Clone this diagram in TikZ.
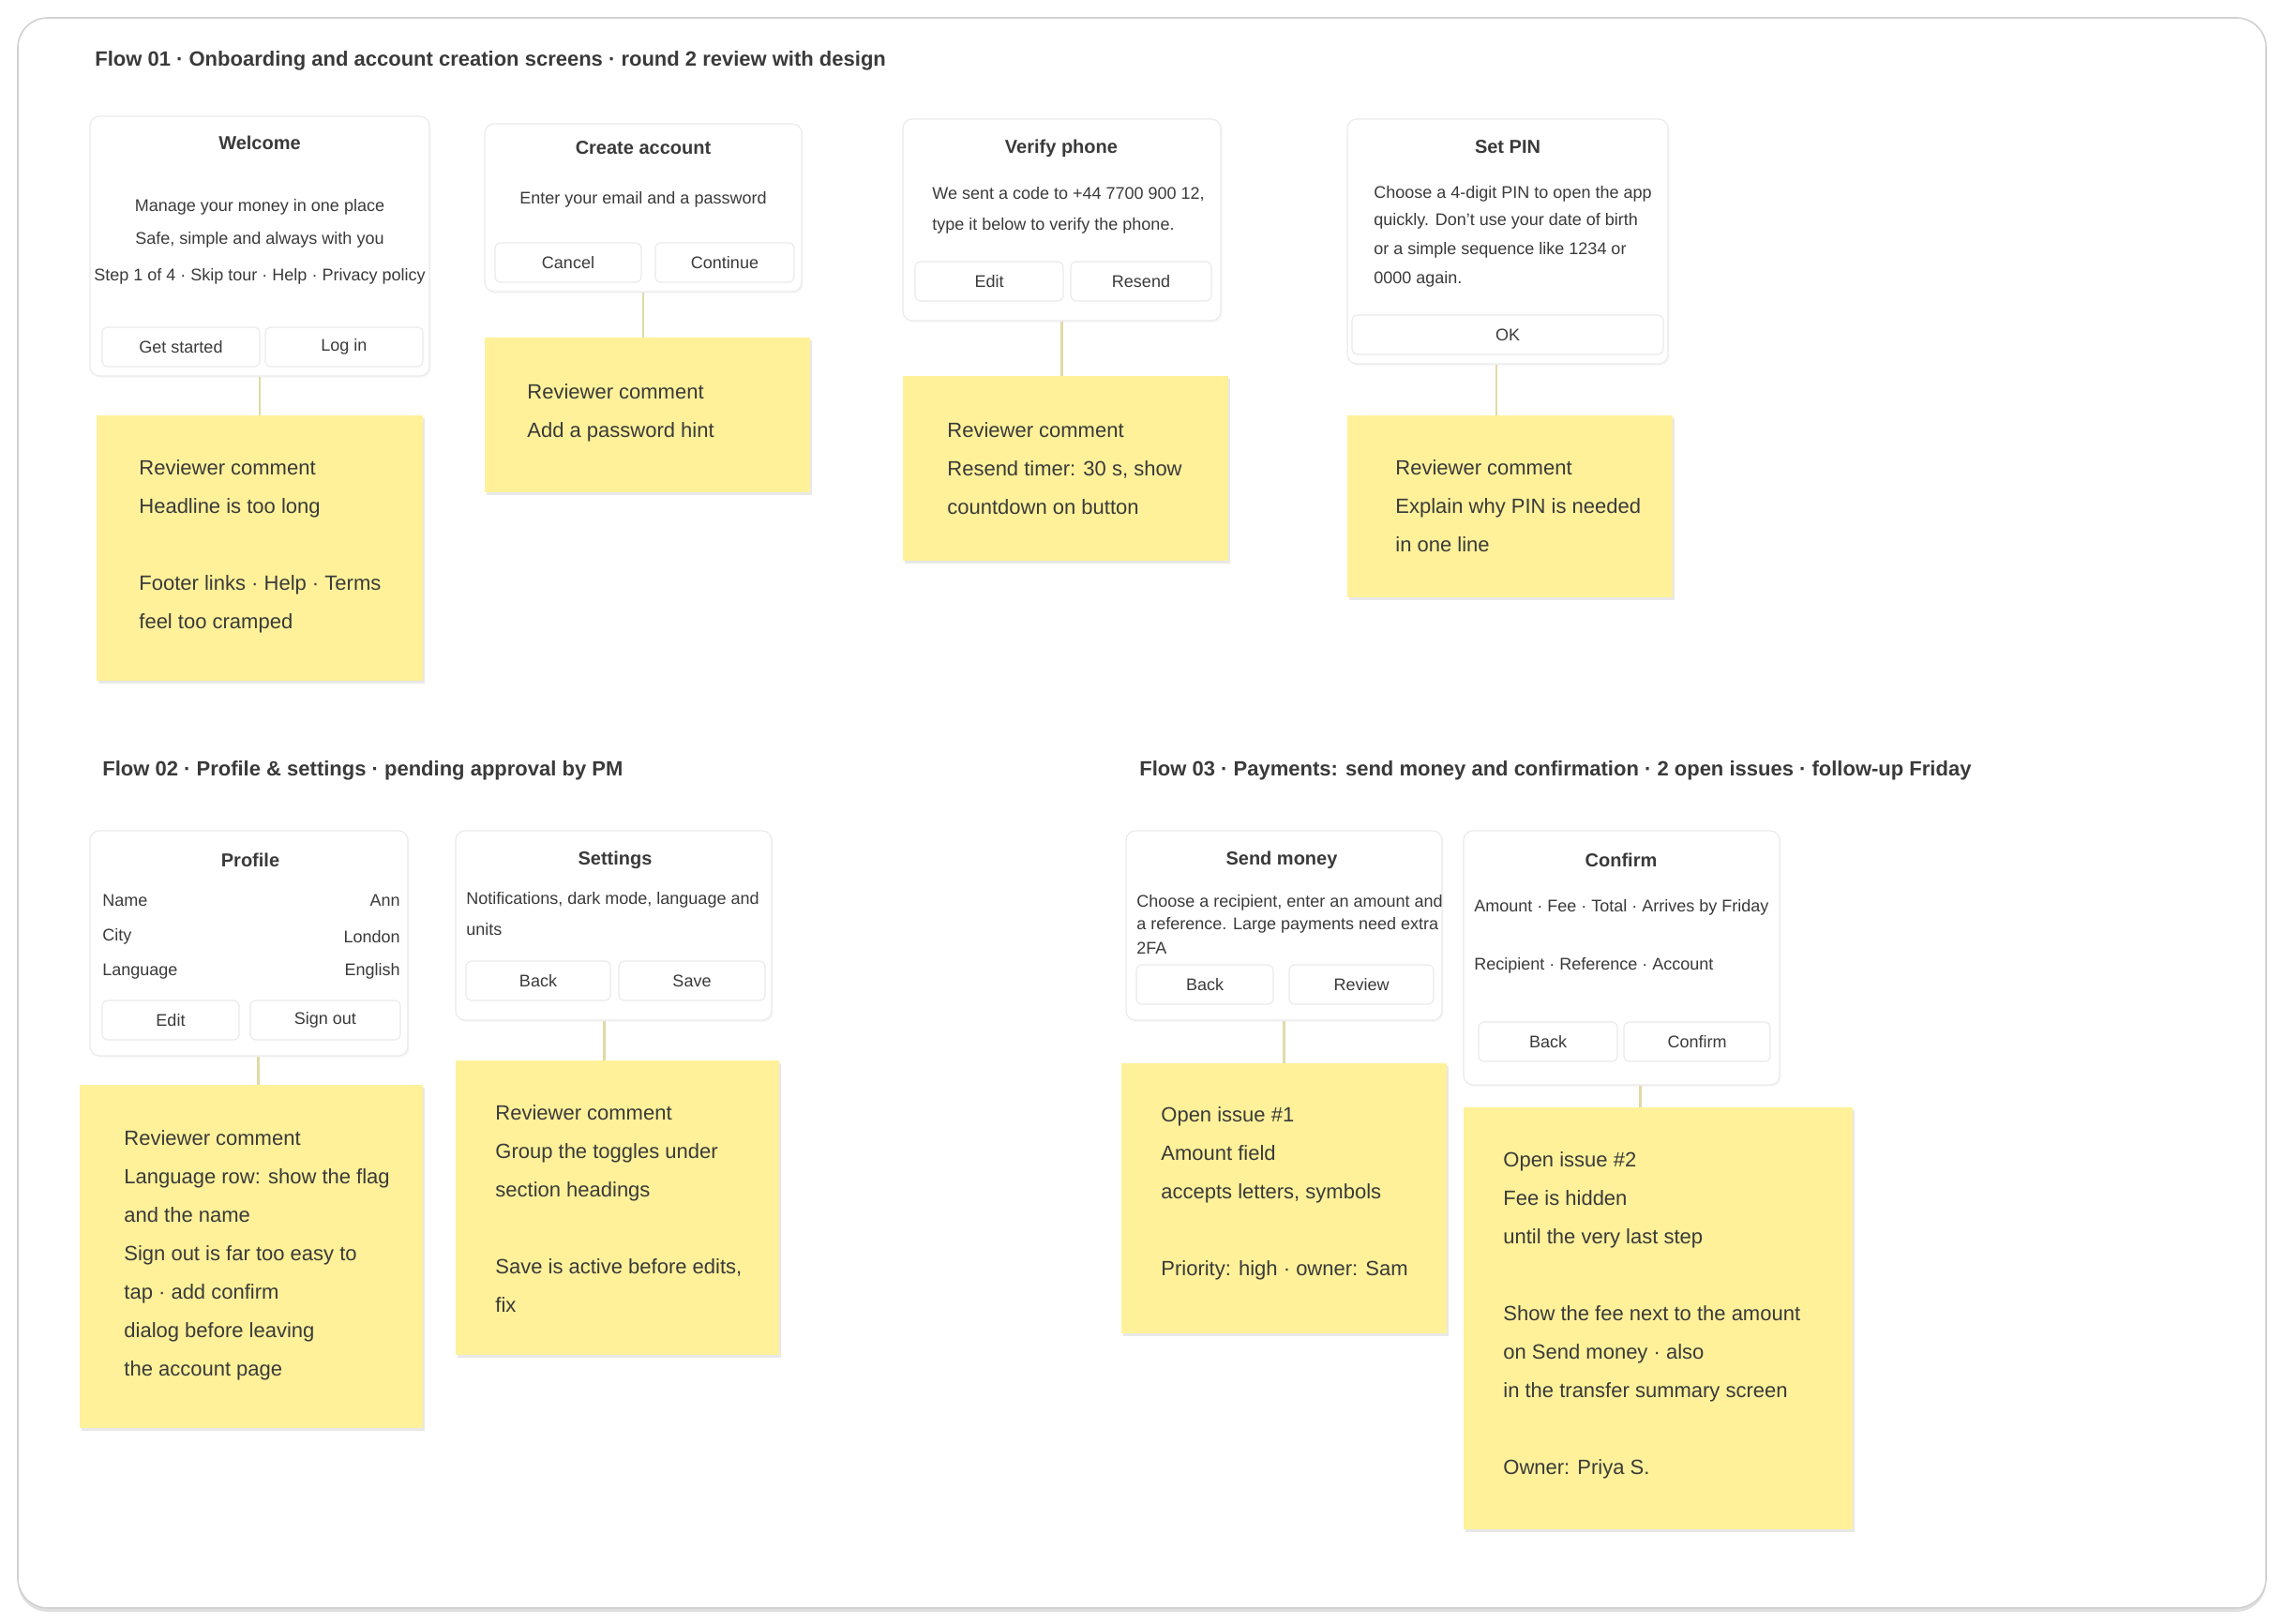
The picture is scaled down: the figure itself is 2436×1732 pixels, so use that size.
\documentclass[tikz,border=0pt]{standalone}
\usepackage{fontspec}
\setmainfont{Liberation Sans}
\usetikzlibrary{shadows,fit}
\definecolor{stickyc}{HTML}{FEF199}
\definecolor{linkc}{HTML}{E0DAA6}
\definecolor{inkc}{HTML}{3A3A3A}
\tikzset{
 frame/.style={draw=black!18, fill=white, rounded corners=16pt, line width=0.8pt, inner sep=0pt, drop shadow={opacity=0.25, shadow xshift=0pt, shadow yshift=-2pt}},
 wire/.style={draw=black!8, fill=white, rounded corners=5pt, line width=0.6pt, inner sep=0pt, drop shadow={opacity=0.06, shadow xshift=0.8pt, shadow yshift=-1pt}},
 btn/.style={draw=black!8, fill=white, rounded corners=3pt, line width=0.6pt, font=\fontsize{9}{11}\selectfont, text=inkc, minimum height=21pt, inner sep=0pt},
 sticky/.style={fill=stickyc, inner sep=0pt, drop shadow={opacity=0.18, shadow xshift=1pt, shadow yshift=-1.5pt}},
 link/.style={draw=linkc, line width=1.2pt},
 sec/.style={anchor=west, inner sep=0pt, font=\bfseries\fontsize{11}{13}\selectfont, text=inkc},
 wtitle/.style={inner sep=0pt, font=\bfseries\fontsize{10}{12}\selectfont, text=inkc},
 wtext/.style={inner sep=0pt, font=\fontsize{9}{11}\selectfont, text=inkc},
 wleft/.style={wtext, anchor=west},
 stext/.style={anchor=north west, inner sep=0pt, align=left, font=\fontsize{11}{20.5}\selectfont, text=inkc},
}
\begin{document}
\begin{tikzpicture}[x=0.5pt,y=-0.5pt]
\useasboundingbox (0,0) rectangle (2436,1732);
\node[frame, fit={(19,19)(2417,1715)}] (frame) {};

% section titles
\node[sec] (t1) at (101,65) {Flow 01 · Onboarding and account creation screens · round 2 review with design};
\node[sec] (t2) at (109,822) {Flow 02 · Profile \& settings · pending approval by PM};
\node[sec] (t3) at (1215,822) {Flow 03 · Payments: send money and confirmation · 2 open issues · follow-up Friday};

% ---------- box 1
\node[wire, fit={(96,124)(458,401)}] (w1) {};
\node[wtitle] (w1t) at (277,152) {Welcome};
\node[wtext] (w1a) at (277,221) {Manage your money in one place};
\node[wtext] (w1b) at (277,256) {Safe, simple and always with you};
\node[wtext] (w1c) at (277,295) {Step 1 of 4 · Skip tour · Help · Privacy policy};
\node[btn, minimum width=84pt] (w1l) at (193,370) {Get started};
\node[btn, minimum width=84pt] (w1r) at (367,370) {Log in};
\node[sticky, fit={(103,443)(451,726)}] (s1) {};
\node[stext] (s1x) at (148,490) {Reviewer comment\\Headline is too long\\[20.5pt]Footer links · Help · Terms\\feel too cramped};
\draw[link] (w1.south) -- (w1.south |- s1.north);

% ---------- box 2
\node[wire, fit={(517,132)(855,311)}] (w2) {};
\node[wtitle] (w2t) at (686,158) {Create account};
\node[wtext] (w2a) at (686,213) {Enter your email and a password};
\node[btn, minimum width=78pt] (w2l) at (606,280) {Cancel};
\node[btn, minimum width=74pt] (w2r) at (773,280) {Continue};
\node[sticky, fit={(517,360)(864,525)}] (s2) {};
\node[stext] (s2x) at (562,409) {Reviewer comment\\Add a password hint};
\draw[link] (w2.south) -- (w2.south |- s2.north);

% ---------- box 3
\node[wire, fit={(963,127)(1302,342)}] (w3) {};
\node[wtitle] (w3t) at (1132,158) {Verify phone};
\node[wleft] (w3a) at (994,207) {We sent a code to +44 7700 900 12,};
\node[wleft] (w3b) at (994,241) {type it below to verify the phone.};
\node[btn, minimum width=79pt] (w3l) at (1055,300) {Edit};
\node[btn, minimum width=75pt] (w3r) at (1217,300) {Resend};
\node[sticky, fit={(963,401)(1310,598)}] (s3) {};
\node[stext] (s3x) at (1010,450) {Reviewer comment\\Resend timer: 30 s, show\\countdown on button};
\draw[link] (w3.south) -- (w3.south |- s3.north);

% ---------- box 4
\node[wire, fit={(1437,127)(1779,388)}] (w4) {};
\node[wtitle] (w4t) at (1608,157) {Set PIN};
\node[wleft] (w4a) at (1465,207) {Choose a 4-digit PIN to open the app};
\node[wleft] (w4b) at (1465,236) {quickly. Don't use your date of birth};
\node[wleft] (w4c) at (1465,267) {or a simple sequence like 1234 or};
\node[wleft] (w4d) at (1465,298) {0000 again.};
\node[btn, minimum width=166pt] (w4o) at (1608,357) {OK};
\node[sticky, fit={(1437,443)(1784,637)}] (s4) {};
\node[stext] (s4x) at (1488,490) {Reviewer comment\\Explain why PIN is needed\\in one line};
\draw[link] ([xshift=-6pt]w4.south) -- ([xshift=-6pt]w4.south |- s4.north);

% ---------- box 5
\node[wire, fit={(96,886)(435,1126)}] (w5) {};
\node[wtitle] (w5t) at (267,917) {Profile};
\node[wleft] (w5a) at (109,960) {Name};
\node[wtext, anchor=east] (w5av) at (427,960) {Ann};
\node[wleft] (w5b) at (109,999) {City};
\node[wtext, anchor=east] (w5bv) at (427,999) {London};
\node[wleft] (w5c) at (109,1036) {Language};
\node[wtext, anchor=east] (w5cv) at (427,1036) {English};
\node[btn, minimum width=73pt] (w5l) at (182,1088) {Edit};
\node[btn, minimum width=80pt] (w5r) at (347,1088) {Sign out};
\node[sticky, fit={(85,1157)(451,1523)}] (s5) {};
\node[stext] (s5x) at (132,1205) {Reviewer comment\\Language row: show the flag\\and the name\\Sign out is far too easy to\\tap · add confirm\\dialog before leaving\\the account page};
\draw[link] ([xshift=5pt]w5.south) -- ([xshift=5pt]w5.south |- s5.north);

% ---------- box 6
\node[wire, fit={(486,886)(823,1088)}] (w6) {};
\node[wtitle] (w6t) at (656,917) {Settings};
\node[wleft] (w6a) at (497,960) {Notifications, dark mode, language and};
\node[wleft] (w6b) at (497,991) {units};
\node[btn, minimum width=77pt] (w6l) at (574,1046) {Back};
\node[btn, minimum width=78pt] (w6r) at (738,1046) {Save};
\node[sticky, fit={(486,1131)(831,1445)}] (s6) {};
\node[stext] (s6x) at (528,1178) {Reviewer comment\\Group the toggles under\\section headings\\[20.5pt]Save is active before edits,\\fix};
\draw[link] ([xshift=-5pt]w6.south) -- ([xshift=-5pt]w6.south |- s6.north);

% ---------- box 7
\node[wire, fit={(1201,886)(1538,1088)}] (w7) {};
\node[wtitle] (w7t) at (1367,917) {Send money};
\node[wleft] (w7a) at (1212,963) {Choose a recipient, enter an amount and};
\node[wleft] (w7b) at (1212,987) {a reference. Large payments need extra};
\node[wleft] (w7c) at (1212,1011) {2FA};
\node[btn, minimum width=73pt] (w7l) at (1285,1050) {Back};
\node[btn, minimum width=77pt] (w7r) at (1452,1050) {Review};
\node[sticky, fit={(1196,1134)(1543,1422)}] (s7) {};
\node[stext] (s7x) at (1238,1180) {Open issue \#1\\Amount field\\accepts letters, symbols\\[20.5pt]Priority: high · owner: Sam};
\draw[link] (w7.south) -- (w7.south |- s7.north);

% ---------- box 8
\node[wire, fit={(1561,886)(1898,1157)}] (w8) {};
\node[wtitle] (w8t) at (1729,917) {Confirm};
\node[wleft] (w8a) at (1572,968) {Amount · Fee · Total · Arrives by Friday};
\node[wleft] (w8b) at (1572,1030) {Recipient · Reference · Account};
\node[btn, minimum width=74pt] (w8l) at (1651,1111) {Back};
\node[btn, minimum width=78pt] (w8r) at (1810,1111) {Confirm};
\node[sticky, fit={(1561,1181)(1976,1631)}] (s8) {};
\node[stext] (s8x) at (1603,1228) {Open issue \#2\\Fee is hidden\\until the very last step\\[20.5pt]Show the fee next to the amount\\on Send money · also\\in the transfer summary screen\\[20.5pt]Owner: Priya S.};
\draw[link] ([xshift=10pt]w8.south) -- ([xshift=10pt]w8.south |- s8.north);
\end{tikzpicture}
\end{document}
